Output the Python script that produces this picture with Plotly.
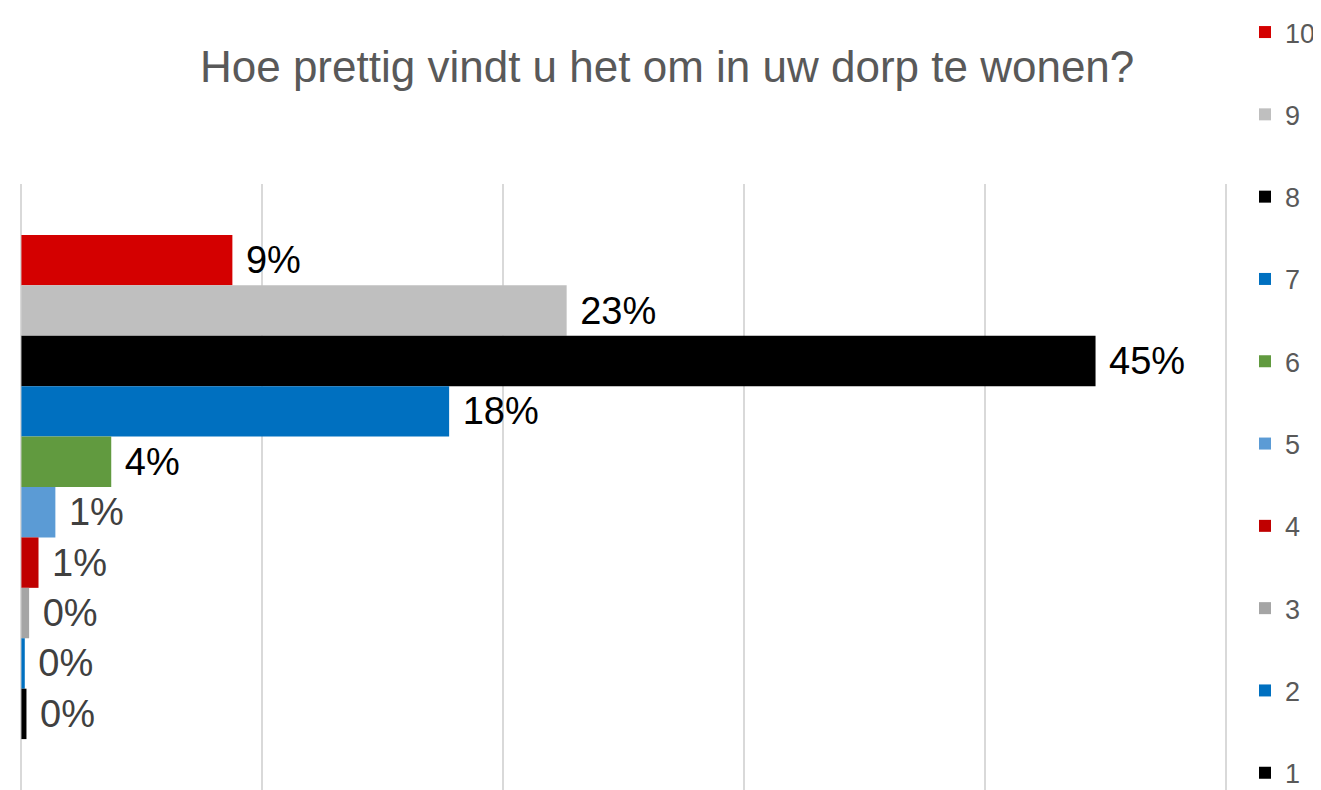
import plotly.graph_objects as go

# Data (top-to-bottom order, as in the legend)
ratings = ["10", "9", "8", "7", "6", "5", "4", "3", "2", "1"]
percentages = [8.76, 22.64, 44.6, 17.76, 3.73, 1.41, 0.71, 0.32, 0.14, 0.21]
bar_colors = ["#D40000", "#BFBFBF", "#000000", "#0070C0", "#619A3F",
              "#5B9BD5", "#C00000", "#A5A5A5", "#0070C0", "#000000"]
label_colors = ["#000000", "#000000", "#000000", "#000000", "#000000",
                "#404040", "#404040", "#404040", "#404040", "#404040"]
category = ["Score"]
title_text = "Hoe prettig vindt u het om in uw dorp te wonen?"

FONT = "Liberation Sans, Arial, sans-serif"

# The page body has an 8px margin, so the figure is drawn 8px in from the top-left.
W, H = 1313, 782

fig = go.Figure()
for r, v, c, lc in zip(ratings, percentages, bar_colors, label_colors):
    fig.add_trace(go.Bar(
        y=category, x=[v], name=r, orientation="h",
        marker=dict(color=c, line=dict(width=0)),
        texttemplate="\u00a0%{x:.0f}%", textposition="outside",
        textfont=dict(family=FONT, size=38, color=lc),
        constraintext="none", cliponaxis=False,
        legendgroup=r, hoverinfo="skip",
    ))

fig.update_layout(
    width=W, height=H,
    paper_bgcolor="white", plot_bgcolor="white",
    margin=dict(l=10.6, r=92.6, t=176, b=0, autoexpand=False),
    barmode="group", bargap=0.168, bargroupgap=0,
    title=dict(text=title_text, x=0.502, xanchor="center", y=0.9246, yanchor="middle",
               font=dict(family=FONT, size=44, color="#595959")),
    xaxis=dict(range=[-0.1, 50.1], dtick=10, tick0=0, showgrid=True,
               gridcolor="#D9D9D9", gridwidth=2, automargin=False,
               showticklabels=False, zeroline=False, showline=False, ticks=""),
    yaxis=dict(autorange="reversed", showticklabels=False, showgrid=False,
               zeroline=False, showline=False, automargin=False),
    legend=dict(xref="container", yref="container", x=1237/W, xanchor="left",
                y=1.0, yanchor="top", traceorder="grouped", tracegroupgap=44.2,
                font=dict(family=FONT, size=27, color="#595959"),
                itemwidth=30, bgcolor="rgba(0,0,0,0)", maxheight=1.0),
    showlegend=True,
)

fig.write_html("out.html")
